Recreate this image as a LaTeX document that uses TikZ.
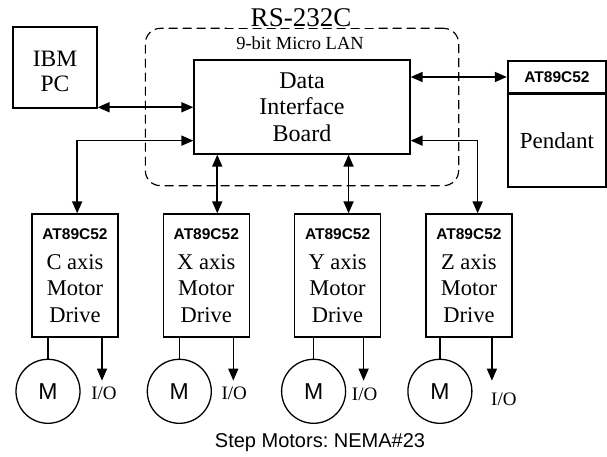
\documentclass[tikz,border=0pt]{standalone}
\usepackage{fontspec}
\setmainfont{Liberation Serif}
\setsansfont{Liberation Sans}
\usepackage{tikz}
\usetikzlibrary{arrows.meta,positioning,calc,fit}

\begin{document}
\begin{tikzpicture}[
  x=1pt, y=-1pt,
  box/.style={draw, line width=1.3pt, inner sep=0pt, align=center, font=\fontsize{23}{26.5}\selectfont},
  drv/.style={box, minimum width=86pt, minimum height=123pt, font=\fontsize{22.5}{26.5}\selectfont},
  motor/.style={draw, circle, line width=1.3pt, minimum size=64pt, inner sep=0pt, font=\sffamily\fontsize{23}{26}\selectfont},
  chip/.style={font=\sffamily\bfseries\fontsize{15.5}{18}\selectfont},
  io/.style={inner sep=0pt, font=\fontsize{19}{21}\selectfont},
  link/.style={<->, line width=1.7pt},
  >={Triangle[length=12pt,width=10pt]}, node distance=44pt
]
  \useasboundingbox (0,0) rectangle (607,457);

  \node[box, minimum width=216pt, minimum height=94pt, font=\fontsize{24}{26.5}\selectfont] (board) at (302,107) {Data\\Interface\\Board};
  \node[draw, dashed, dash pattern=on 9pt off 5pt, line width=1.2pt, rounded corners=15pt,
        fit=(board), inner xsep=48pt, inner ysep=31pt] (lanbox) {};
  \node[fill=white, inner xsep=24pt, inner ysep=1pt, font=\fontsize{27}{30}\selectfont] (rs) at (301,18) {RS-232C};
  \node[font=\fontsize{18.5}{20}\selectfont] (lan) at (300,43) {9-bit Micro LAN};

  \node[box, minimum width=84pt, minimum height=81pt, text height=48pt, font=\fontsize{23.5}{25}\selectfont] (ibm) at (55,67.5) {IBM\\PC};
  \node[box, chip, line width=2.4pt, minimum width=98pt, minimum height=32pt] (phead) at (557,77) {AT89C52};
  \node[box, minimum width=98pt, minimum height=92pt, below=0pt of phead] (pend) {Pendant};

  \node[drv] (cdrv) at (75,275.5) {{\sffamily\bfseries\fontsize{15.5}{18}\selectfont AT89C52}\\[3pt]C axis\\Motor\\Drive};
  \node[drv, right=of cdrv] (xdrv) {{\sffamily\bfseries\fontsize{15.5}{18}\selectfont AT89C52}\\[3pt]X axis\\Motor\\Drive};
  \node[drv, right=of xdrv] (ydrv) {{\sffamily\bfseries\fontsize{15.5}{18}\selectfont AT89C52}\\[3pt]Y axis\\Motor\\Drive};
  \node[drv, right=of ydrv] (zdrv) {{\sffamily\bfseries\fontsize{15.5}{18}\selectfont AT89C52}\\[3pt]Z axis\\Motor\\Drive};

  \draw[link] (ibm.-43) -- (ibm.-43 -| board.west);
  \draw[link] (phead.west -| board.east) -- (phead.west);
  \draw[link] ([yshift=14pt]board.south west) -| (cdrv.88);
  \draw[link] (xdrv.80 |- board.south) -- (xdrv.80);
  \draw[link] (ydrv.80 |- board.south) -- (ydrv.80);
  \draw[link] ([yshift=14pt]board.south east) -| (zdrv.82);

  % motors and I/O lines
  \node[motor, below=21pt of cdrv, xshift=-27pt] (cmot) {M};
  \node[motor, below=21pt of xdrv, xshift=-27pt] (xmot) {M};
  \node[motor, below=21pt of ydrv, xshift=-24pt] (ymot) {M};
  \node[motor, below=21pt of zdrv, xshift=-29pt] (zmot) {M};
  \draw[line width=1.3pt] (cmot) -- (cmot |- cdrv.south);
  \draw[line width=1.3pt] (xmot) -- (xmot |- xdrv.south);
  \draw[line width=1.3pt] (ymot) -- (ymot |- ydrv.south);
  \draw[line width=1.3pt] (zmot) -- (zmot |- zdrv.south);

  \coordinate[below=43pt of cdrv, xshift=27pt] (cio);
  \coordinate[below=43pt of xdrv, xshift=27pt] (xio);
  \coordinate[below=43pt of ydrv, xshift=26pt] (yio);
  \coordinate[below=43pt of zdrv, xshift=23pt] (zio);
  \draw[->, line width=1.4pt] (cdrv.south -| cio) -- (cio);
  \draw[->, line width=1.4pt] (xdrv.south -| xio) -- (xio);
  \draw[->, line width=1.4pt] (ydrv.south -| yio) -- (yio);
  \draw[->, line width=1.4pt] (zdrv.south -| zio) -- (zio);
  \node[io, below=6pt of cio, xshift=2pt] (ciol) {I/O};
  \node[io, below=6pt of xio, xshift=1pt] (xiol) {I/O};
  \node[io, below=7pt of yio, xshift=1pt] (yiol) {I/O};
  \node[io, below=12pt of zio, xshift=12pt] (ziol) {I/O};

  \node[font=\sffamily\fontsize{20}{22}\selectfont] (nema) at (320,443) {\frenchspacing Step Motors: NEMA\#23};
\end{tikzpicture}
\end{document}
